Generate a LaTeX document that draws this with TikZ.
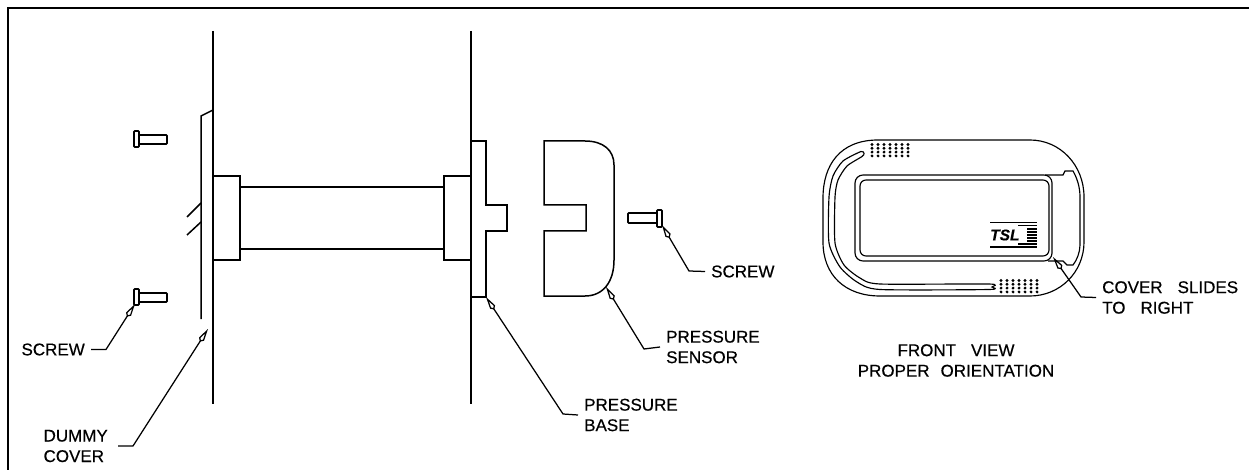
\documentclass[tikz,border=0pt]{standalone}
\usepackage{fontspec}
\setmainfont[FakeBold=0.45]{Liberation Sans}
\usetikzlibrary{arrows.meta}
\tikzset{
	part/.style={line width=1.5pt, line join=miter},
	thin part/.style={line width=1.15pt},
	lbl/.style={inner ysep=0pt, inner xsep=6pt, align=left, font=\fontsize{17}{20.5}\selectfont},
	leader/.style={line width=1.25pt, -{Kite[open, length=15pt, width=6pt, inset=3pt]}},
	screwpart/.style={line width=1.6pt, rounded corners=0.8pt, fill=white}
}
\begin{document}
\begin{tikzpicture}[x=1pt, y=-1pt]
			\useasboundingbox (0,0) rectangle (1249,470);
			\draw[line width=2.7pt] (8,470) -- (8,8) -- (1249,8);

			\draw[part] (213,31) -- (213,404);
			\draw[part] (471,31) -- (471,404);
			\draw[part] (201,319) -- (201,116) -- (213,110);
			\draw[part] (187,217) -- (201,203);
			\draw[part] (187,235) -- (201,222);

			\draw[part] (213,176) -- (240,176) -- (240,260) -- (213,260);
			\draw[part] (471,176) -- (444,176) -- (444,260) -- (471,260);
			\draw[part] (240,187) -- (444,187);
			\draw[part] (240,249) -- (444,249);

			\draw[part] (471,141) -- (486,141) -- (486,205) -- (507,205) -- (507,231) -- (486,231) -- (486,297) -- (471,297);
			\draw[part] (544,141) -- (585,141) .. controls (603,141) and (614,150) .. (614,165) -- (614,260) .. controls (614,282) and (603,296) .. (585,296) -- (544,296) -- (544,231) -- (586,231) -- (586,205) -- (544,205) -- cycle;

			\draw[screwpart] (138,135) rectangle (167,144);
			\draw[screwpart] (134,131) rectangle (139,147);
			\draw[screwpart] (138,293) rectangle (167,302);
			\draw[screwpart] (134,289) rectangle (139,305);
			\draw[screwpart] (628,213) rectangle (658,223);
			\draw[screwpart] (657,210) rectangle (662,227);

			\draw[thin part] (878,140) -- (1030,140) .. controls (1060,140) and (1084,165) .. (1084,197) -- (1084,242) .. controls (1084,272) and (1060,296) .. (1030,296) -- (880,296) .. controls (845,296) and (823,275) .. (823,242) -- (823,198) .. controls (823,165) and (840,140) .. (878,140) -- cycle;
			\draw[thin part] plot[smooth cycle, tension=0.4] coordinates {(864,153.5) (861,151.5) (843,161) (833,176) (829,197) (829,243) (840,267) (857,282) (880,289.5) (989,289.5) (992,287) (989,284) (880,284) (860,278) (844,265) (835,243) (835,197) (838,180) (847,166) (862,156.5)};
			\draw[thin part, rounded corners=8pt] (855,175) rectangle (1052,261);
			\draw[thin part, rounded corners=6pt] (860,180) rectangle (1049,256);
			\draw[thin part] (1045,175) -- (1063,175) -- (1065,171) -- (1073,171) .. controls (1077,178) and (1080,187) .. (1080,197) -- (1080,245) .. controls (1080,252) and (1077,260) .. (1073,265) -- (1067,265) -- (1063,261) -- (1048,261);

			\foreach \col in {0,...,6}
				\foreach \row in {0,...,3} {
					\fill (872+6*\col,144.5+3.8*\row) circle (1.6pt);
					\fill (1001+6*\col,280.5+3.8*\row) circle (1.6pt);
				}

			\draw[line width=1.6pt] (990,222.5) -- (1037,222.5);
			\draw[line width=1.6pt] (990,247) -- (1037,247);
			\draw[line width=1.2pt] (1018,225.5) -- (1037,225.5);
			\draw[line width=1.2pt] (1018,244) -- (1037,244);
			\foreach \ypos in {229,232,235,238,241}
				\draw[line width=1.1pt] (1027,\ypos) -- (1037,\ypos);
			\node[inner sep=0pt, anchor=west, font=\fontsize{15.5}{15}\selectfont\bfseries\itshape] (logo) at (990,235) {TSL};

			\coordinate (tipscrewa) at (135,304);
			\coordinate (tipcover) at (208,329);
			\coordinate (tipbase) at (486,297);
			\coordinate (tipsensor) at (606,287);
			\coordinate (tipscrewb) at (662,225);
			\coordinate (tipslide) at (1053,257);

			\node[lbl, anchor=east] (screwa) at (91,349.5) {SCREW};
			\node[lbl, anchor=east, inner xsep=10pt] (cover) at (118,446) {DUMMY\\COVER};
			\node[lbl, anchor=west] (base) at (578,415) {PRESSURE\\BASE};
			\node[lbl, anchor=west, yshift=0pt] (sensor) at (660,347) {PRESSURE\\SENSOR};
			\node[lbl, anchor=west] (screwb) at (705,271.5) {SCREW};
			\node[lbl, anchor=west] (slide) at (1096,297.5) {COVER\hspace{15pt}SLIDES\\TO\hspace{15pt}RIGHT};
			\node[lbl, align=center, inner xsep=0pt] (view) at (956,360.5) {FRONT\hspace{15pt}VIEW\\PROPER\hspace{11pt}ORIENTATION};

			\draw[leader] (screwa.east) -- (106,349.5) -- (tipscrewa);
			\draw[leader] (cover.east) -- (133,446) -- (tipcover);
			\draw[leader] (base.west) -- (563,414) -- (tipbase);
			\draw[leader] (sensor.west) -- (644,349) -- (tipsensor);
			\draw[leader] (screwb.west) -- (689,271) -- (tipscrewb);
			\draw[leader] (slide.west) -- (1081,297) -- (tipslide);
		\end{tikzpicture}
\end{document}
